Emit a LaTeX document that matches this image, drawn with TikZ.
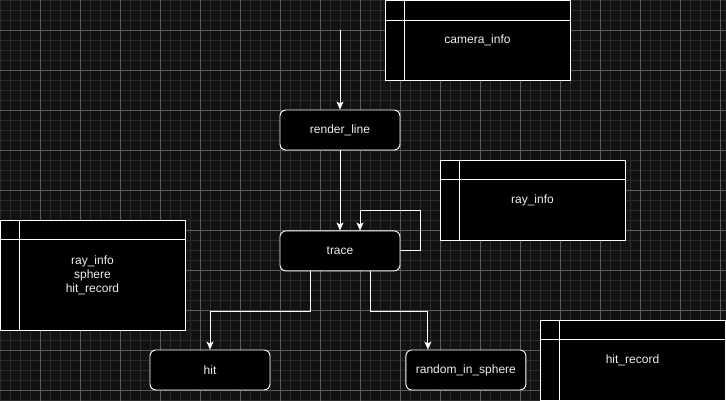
\documentclass[tikz,border=0pt]{standalone}
\usepackage{fontspec}
\setmainfont{Liberation Sans}
\usepackage{tikz}
\usetikzlibrary{positioning,arrows.meta}
\definecolor{figbg}{HTML}{121212}
\definecolor{figminor}{HTML}{2B2B2B}
\definecolor{figmajor}{HTML}{5C5C5C}
\definecolor{figtext}{HTML}{EEEEEE}

\begin{document}
\begin{tikzpicture}[
  x=1pt, y=-1pt,
  font=\fontsize{12}{14}\selectfont,
  minorgrid/.style={figminor, line width=0.8pt},
  majorgrid/.style={figmajor, line width=0.8pt},
  fn/.style={draw=white, fill=black, rounded corners=6pt, text=figtext,
             minimum width=120, minimum height=40, line width=0.9pt},
  tbl/.style={draw=white, fill=black, text=figtext, align=center,
              minimum width=185, line width=0.9pt},
  tbline/.style={white, line width=0.9pt},
  lk/.style={-{Stealth[length=8pt,width=7pt,inset=2pt]}, white, line width=0.9pt},
]
\useasboundingbox (0,0) rectangle (726,401);
% Background grid
\fill[figbg] (0,0) rectangle (726,401);
\foreach \x in {0,10,...,720} \draw[minorgrid] (\x,0) -- (\x,401);
\foreach \y in {0,10,...,400} \draw[minorgrid] (0,\y) -- (726,\y);
\foreach \x in {40,80,...,720} \draw[majorgrid] (\x,0) -- (\x,401);
\foreach \y in {30,70,...,390} \draw[majorgrid] (0,\y) -- (726,\y);
% Data tables
\node[tbl, minimum height=80] (cam) at (477.5,40.5) {camera\_info};
\node[tbl, minimum height=80] (ray) at (532.5,200) {ray\_info};
\node[tbl, minimum height=110] (args) at (92.5,275) {ray\_info\\sphere\\hit\_record};
\node[tbl, minimum height=80] (rec) at (632.5,360) {hit\_record};
\foreach \t in {cam,ray,args,rec} {
  \draw[tbline] ([yshift=-20pt]\t.north west) -- ([yshift=-20pt]\t.north east);
  \draw[tbline] ([xshift=20pt]\t.north west) -- ([xshift=20pt]\t.south west);
}
% Functions
\node[fn] (rl) at (340,130) {render\_line};
\node[fn, below=80pt of rl] (tr) {trace};
\node[fn] (hit) at (210,370) {hit};
\node[fn, right=135pt of hit] (ris) {random\_in\_sphere};
% Calls
\coordinate (entry) at (340,30);
\draw[lk] (entry) -- (rl);
\draw[lk] (rl) -- (tr);
\draw[lk] (tr.east) -- ++(20,0) -- ++(0,-40) -| ([xshift=20pt]tr.north);
\draw[lk] ([xshift=-30pt]tr.south) -- ++(0,40) -| (hit);
\draw[lk] ([xshift=30pt]tr.south) -- ++(0,40) -| ([xshift=-38pt]ris.north);
\end{tikzpicture}
\end{document}
